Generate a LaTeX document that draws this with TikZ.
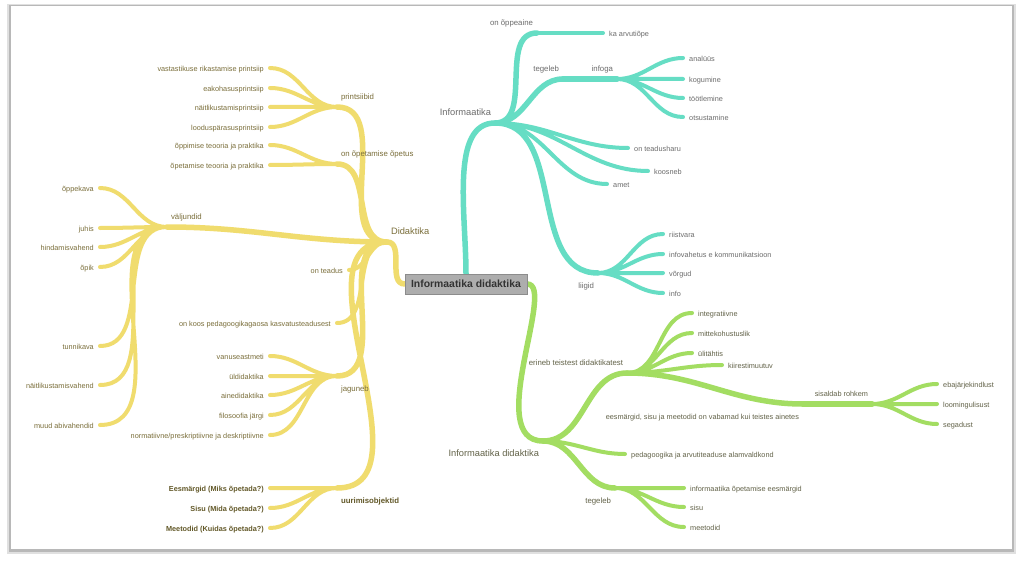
\documentclass[tikz,border=0pt]{standalone}
\usepackage{fontspec}
\setmainfont{Liberation Sans}
\usepackage{tikz}
\usetikzlibrary{backgrounds}
\definecolor{ylw}{RGB}{240,220,110}
\definecolor{tel}{RGB}{102,221,196}
\definecolor{grn}{RGB}{163,221,98}
\definecolor{ytxt}{RGB}{122,110,58}
\definecolor{ybold}{RGB}{98,88,40}
\definecolor{ttxt}{RGB}{108,108,108}
\definecolor{gtxt}{RGB}{98,98,72}
\tikzset{
    rootbox/.style = {draw=black!45, fill=black!32, text=black!80, font=\fontsize{10.4}{12}\selectfont\bfseries, minimum width=122pt, minimum height=20pt, inner sep=1pt},
    leaftxt/.style = {font=\fontsize{7.3}{9}\selectfont, inner xsep=6pt, inner ysep=1pt, text height=1.5ex, text depth=.25ex},
    yleaf/.style = {leaftxt, text=ytxt},
    yboldleaf/.style = {leaftxt, text=ybold, font=\fontsize{7.3}{9}\selectfont\bfseries},
    tleaf/.style = {leaftxt, text=ttxt},
    gleaf/.style = {leaftxt, text=gtxt},
    smalltxt/.style = {font=\fontsize{7.3}{9}\selectfont},
    midtxt/.style = {font=\fontsize{7.8}{9}\selectfont},
    midbold/.style = {font=\fontsize{7.8}{9}\selectfont\bfseries},
    bigtxt/.style = {font=\fontsize{9.3}{11}\selectfont},
    lup/.style = {yshift=2.5pt},
    ldn/.style = {yshift=-4pt},
    ytrunk/.style = {draw=ylw, line width=5.5pt, line cap=round},
    ytwig/.style = {draw=ylw, line width=4pt, line cap=round},
    ttrunk/.style = {draw=tel, line width=5.5pt, line cap=round},
    ttwig/.style = {draw=tel, line width=4pt, line cap=round},
    gtrunk/.style = {draw=grn, line width=5.5pt, line cap=round},
    gtwig/.style = {draw=grn, line width=4pt, line cap=round},
    tol/.style = {out=180, in=0},
    tor/.style = {out=0, in=180},
}

\begin{document}
\begin{tikzpicture}[x=1pt, y=-1pt, label distance=4pt, every label/.style={inner sep=1pt, text height=1.5ex, text depth=.25ex}]
    \useasboundingbox (0,0) rectangle (1024,564);

    \node [rootbox] (root) at (466,284) {Informaatika didaktika};

    % Didaktika
    \coordinate [label={[bigtxt, text=ytxt, lup]above right:Didaktika}] (didaktika) at (387,242);
    \coordinate [label={[midtxt, text=ytxt, lup]above right:printsiibid}] (printsiibid) at (337,107);
    \node [yleaf, left] (vastastikuse) at (270,68) {vastastikuse rikastamise printsiip};
    \node [yleaf, left] (eakohasus) at (270,88) {eakohasusprintsiip};
    \node [yleaf, left] (naitlikustamis) at (270,107) {näitlikustamisprintsiip};
    \node [yleaf, left] (loodusparasus) at (270,127) {looduspärasusprintsiip};
    \coordinate [label={[midtxt, text=ytxt, lup]above right:on õpetamise õpetus}] (opetus) at (337,164);
    \node [yleaf, left] (oppimine) at (270,145) {õppimise teooria ja praktika};
    \node [yleaf, left] (opetamine) at (270,165) {õpetamise teooria ja praktika};
    \coordinate [label={[midtxt, text=ytxt, lup]above right:väljundid}] (valjundid) at (167,227);
    \node [yleaf, left] (oppekava) at (100,188) {õppekava};
    \node [yleaf, left] (juhis) at (100,228) {juhis};
    \node [yleaf, left] (hindamisvahend) at (100,247) {hindamisvahend};
    \node [yleaf, left] (opik) at (100,267) {õpik};
    \node [yleaf, left] (tunnikava) at (100,346) {tunnikava};
    \node [yleaf, left] (naitvahend) at (100,385) {näitlikustamisvahend};
    \node [yleaf, left] (abivahendid) at (100,425) {muud abivahendid};
    \node [yleaf, left] (teadus) at (349,270) {on teadus};
    \node [yleaf, left] (kasvatus) at (337,323) {on koos pedagoogikagaosa kasvatusteadusest};
    \coordinate [label={[midtxt, text=ytxt, ldn]below right:jaguneb}] (jaguneb) at (337,376);
    \node [yleaf, left] (vanuseastmeti) at (270,356) {vanuseastmeti};
    \node [yleaf, left] (uldidaktika) at (270,376) {üldidaktika};
    \node [yleaf, left] (ainedidaktika) at (270,395) {ainedidaktika};
    \node [yleaf, left] (filosoofia) at (270,415) {filosoofia järgi};
    \node [yleaf, left] (normatiivne) at (270,435) {normatiivne/preskriptiivne ja deskriptiivne};
    \coordinate [label={[midbold, text=ybold, ldn]below right:uurimisobjektid}] (uurimis) at (337,488);
    \node [yboldleaf, left] (eesmargid) at (270,488) {Eesmärgid (Miks õpetada?)};
    \node [yboldleaf, left] (sisu) at (270,508) {Sisu (Mida õpetada?)};
    \node [yboldleaf, left] (meetodid) at (270,528) {Meetodid (Kuidas õpetada?)};

    % Informaatika
    \coordinate [label={[bigtxt, text=ttxt, lup]above left:Informaatika}] (informaatika) at (495,123);
    \coordinate [label={[midtxt, text=ttxt, lup]above left:on õppeaine}] (oppeaine) at (537,33);
    \node [tleaf, right] (arvutiope) at (603,33) {ka arvutiõpe};
    \coordinate [label={[midtxt, text=ttxt, lup]above left:tegeleb}] (tegeleb) at (563,79);
    \coordinate [label={[midtxt, text=ttxt, lup]above left:infoga}] (infoga) at (617,79);
    \node [tleaf, right] (analuus) at (683,58) {analüüs};
    \node [tleaf, right] (kogumine) at (683,79) {kogumine};
    \node [tleaf, right] (tootlemine) at (683,98) {töötlemine};
    \node [tleaf, right] (otsustamine) at (683,117) {otsustamine};
    \node [tleaf, right] (teadusharu) at (628,148) {on teadusharu};
    \node [tleaf, right] (koosneb) at (648,171) {koosneb};
    \node [tleaf, right] (amet) at (607,184) {amet};
    \coordinate [label={[midtxt, text=ttxt, ldn]below left:liigid}] (liigid) at (598,273);
    \node [tleaf, right] (riistvara) at (663,234) {riistvara};
    \node [tleaf, right] (infovahetus) at (663,254) {infovahetus e kommunikatsioon};
    \node [tleaf, right] (vorgud) at (663,273) {võrgud};
    \node [tleaf, right] (info) at (663,293) {info};

    % Informaatika didaktika
    \coordinate [label={[bigtxt, text=gtxt, ldn]below left:Informaatika didaktika}] (gdidaktika) at (543,441);
    \coordinate [label={[midtxt, text=gtxt, lup]above left:erineb teistest didaktikatest}] (erineb) at (627,373);
    \node [gleaf, right] (integratiivne) at (692,313) {integratiivne};
    \node [gleaf, right] (mittekohustuslik) at (692,333) {mittekohustuslik};
    \node [gleaf, right] (ulitahtis) at (692,353) {ülitähtis};
    \node [gleaf, right] (kiirestimuutuv) at (722,365) {kiirestimuutuv};
    \coordinate [label={[smalltxt, text=gtxt, ldn]below left:eesmärgid, sisu ja meetodid on vabamad kui teistes ainetes}] (vabamad) at (803,404);
    \coordinate [label={[smalltxt, text=gtxt, lup]above left:sisaldab rohkem}] (sisaldab) at (872,404);
    \node [gleaf, right] (ebajarjekindlust) at (937,384) {ebajärjekindlust};
    \node [gleaf, right] (loomingulisust) at (937,404) {loomingulisust};
    \node [gleaf, right] (segadust) at (937,424) {segadust};
    \node [gleaf, right] (alamvaldkond) at (625,454) {pedagoogika ja arvutiteaduse alamvaldkond};
    \coordinate [label={[midtxt, text=gtxt, ldn]below left:tegeleb}] (gtegeleb) at (615,488);
    \node [gleaf, right] (geesmargid) at (684,488) {informaatika õpetamise eesmärgid};
    \node [gleaf, right] (gsisu) at (684,507) {sisu};
    \node [gleaf, right] (gmeetodid) at (684,527) {meetodid};

    \begin{scope}[on background layer]
    \fill [black!12] (7,4) rectangle (1016,554);
    \fill [black!28] (9,5) rectangle (1014,552);
    \fill [white] (11,6) rectangle (1012,549);

    \draw [ytrunk] (didaktika) to[tor] (root.west);
    \draw [ytrunk] (didaktika) to[tol] (printsiibid) (didaktika) to[tol] (opetus) (didaktika) to[tol] (valjundid)
        (didaktika) to[tol] (jaguneb) (didaktika) to[tol] (uurimis);
    \draw [ytwig] (didaktika) to[tol] (teadus.east) (didaktika) to[tol] (kasvatus.east);
    \draw [ytwig] (printsiibid) to[tol] (vastastikuse.east) (printsiibid) to[tol] (eakohasus.east)
        (printsiibid) to[tol] (naitlikustamis.east) (printsiibid) to[tol] (loodusparasus.east);
    \draw [ytwig] (opetus) to[tol] (oppimine.east) (opetus) to[tol] (opetamine.east);
    \draw [ytwig] (valjundid) to[tol] (oppekava.east) (valjundid) to[tol] (juhis.east)
        (valjundid) to[tol] (hindamisvahend.east) (valjundid) to[tol] (opik.east)
        (valjundid) to[tol] (tunnikava.east) (valjundid) to[tol] (naitvahend.east)
        (valjundid) to[tol] (abivahendid.east);
    \draw [ytwig] (jaguneb) to[tol] (vanuseastmeti.east) (jaguneb) to[tol] (uldidaktika.east)
        (jaguneb) to[tol] (ainedidaktika.east) (jaguneb) to[tol] (filosoofia.east)
        (jaguneb) to[tol] (normatiivne.east);
    \draw [ytwig] (uurimis) to[tol] (eesmargid.east) (uurimis) to[tol] (sisu.east) (uurimis) to[tol] (meetodid.east);

    \draw [ttrunk] (root.north) .. controls +(0,-60) and +(-45,0) .. (informaatika);
    \draw [ttrunk] (informaatika) to[tor] (oppeaine) (informaatika) to[tor] (tegeleb) (informaatika) to[tor] (liigid);
    \draw [ttwig] (oppeaine) -- (arvutiope.west);
    \draw [ttrunk] (tegeleb) -- (infoga);
    \draw [ttwig] (infoga) to[tor] (analuus.west) (infoga) to[tor] (kogumine.west)
        (infoga) to[tor] (tootlemine.west) (infoga) to[tor] (otsustamine.west);
    \draw [ttwig] (informaatika) to[tor] (teadusharu.west) (informaatika) to[tor] (koosneb.west)
        (informaatika) to[tor] (amet.west);
    \draw [ttwig] (liigid) to[tor] (riistvara.west) (liigid) to[tor] (infovahetus.west)
        (liigid) to[tor] (vorgud.west) (liigid) to[tor] (info.west);

    \draw [gtrunk] (root.east) .. controls +(30,0) and +(-60,0) .. (gdidaktika);
    \draw [gtrunk] (gdidaktika) to[tor] (erineb) (gdidaktika) to[tor] (gtegeleb);
    \draw [gtwig] (gdidaktika) to[tor] (alamvaldkond.west);
    \draw [gtwig] (erineb) to[tor] (integratiivne.west) (erineb) to[tor] (mittekohustuslik.west)
        (erineb) to[tor] (ulitahtis.west) (erineb) to[tor] (kiirestimuutuv.west);
    \draw [gtrunk] (erineb) to[tor] (vabamad);
    \draw [gtrunk] (vabamad) -- (sisaldab);
    \draw [gtwig] (sisaldab) to[tor] (ebajarjekindlust.west) (sisaldab) to[tor] (loomingulisust.west)
        (sisaldab) to[tor] (segadust.west);
    \draw [gtwig] (gtegeleb) to[tor] (geesmargid.west) (gtegeleb) to[tor] (gsisu.west) (gtegeleb) to[tor] (gmeetodid.west);
    \end{scope}
\end{tikzpicture}
\end{document}
